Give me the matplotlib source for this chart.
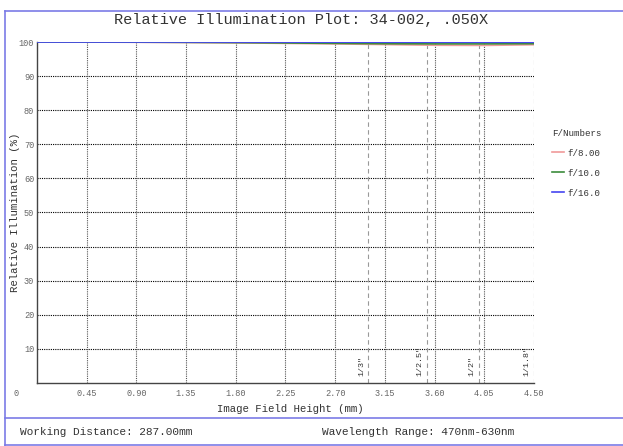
import matplotlib.pyplot as plt
from matplotlib.lines import Line2D

# field height (mm) and relative illumination (%) per f-number
field_mm = [0, 0.45, 0.90, 1.35, 1.80, 2.25, 2.70, 3.15, 3.60, 4.05, 4.50]
illum_f8 = [100, 99.98, 99.92, 99.85, 99.75, 99.6, 99.45, 99.25, 99.05, 99.0, 99.2]
illum_f10 = [100, 100, 99.96, 99.9, 99.82, 99.72, 99.6, 99.5, 99.45, 99.45, 99.5]
illum_f16 = [100, 100, 100, 100, 99.98, 99.97, 99.96, 99.95, 99.94, 99.93, 99.93]

series_labels = ["f/8.00", "f/10.0", "f/16.0"]
series_colors = ["#f09a9a", "#3c8c3c", "#4646f0"]

xticks = [0.45, 0.90, 1.35, 1.80, 2.25, 2.70, 3.15, 3.60, 4.05, 4.50]
yticks = [10, 20, 30, 40, 50, 60, 70, 80, 90, 100]

sensor_names = ['1/3"', '1/2.5"', '1/2"', '1/1.8"']
sensor_half_diag = [3.0, 3.53, 4.0, 4.5]

mono = "Liberation Mono"
txt = "#333333"
frame = "#7b7be6"

fig = plt.figure(figsize=(6.23, 4.46), dpi=100)
ax = fig.add_axes([0.0594, 0.1413, 0.7977, 0.7645])

for y in yticks[:-1]:
    ax.axhline(y, color="black", lw=0.8, ls=(0, (1, 1)), zorder=1)
for x in xticks[:-1]:
    ax.axvline(x, color="#555555", lw=0.8, ls=(0, (1, 1)), zorder=1)
for x, name in zip(sensor_half_diag, sensor_names):
    ax.axvline(x, color="#999999", lw=0.8, ls=(0, (4, 3)), zorder=1)
    ax.text(x - 0.03, 2, name, rotation=90, ha="right", va="bottom",
            fontsize=6, family=mono, color=txt)

for vals, lab, col in zip([illum_f8, illum_f10, illum_f16], series_labels, series_colors):
    ax.plot(field_mm, vals, color=col, lw=1.2, label=lab, zorder=3)

ax.set_xlim(0, 4.5)
ax.set_ylim(0, 100)
ax.set_xticks(xticks)
ax.set_xticklabels([f"{v:.2f}" for v in xticks])
ax.set_yticks(yticks)
ax.tick_params(length=0, labelsize=6.2, labelcolor="#666666")
ax.tick_params(axis="x", pad=4)
ax.tick_params(axis="y", pad=2)
for lbl in ax.get_xticklabels() + ax.get_yticklabels():
    lbl.set_family(mono)
for s in ["top", "right"]:
    ax.spines[s].set_visible(False)
for s in ["left", "bottom"]:
    ax.spines[s].set_color("#444444")
    ax.spines[s].set_linewidth(1)

fig.text(290 / 623, 1 - 409 / 446, "Image Field Height (mm)", family=mono,
         fontsize=7.7, color=txt, ha="center", va="center")
fig.text(15 / 623, 1 - 212 / 446, "Relative Illumination (%)", family=mono,
         fontsize=7.7, color=txt, ha="center", va="center", rotation=90)
fig.text(14 / 623, 1 - 393 / 446, "0", family=mono, fontsize=6.2, color="#666666",
         ha="left", va="center")

leg = ax.legend(loc="upper left", bbox_to_anchor=(1.02, 0.77), frameon=False,
                title="F/Numbers", prop={"family": mono, "size": 6.6},
                handlelength=1.3, handletextpad=0.4, labelspacing=1.2)
leg.get_title().set_family(mono)
leg.get_title().set_fontsize(6.6)
leg.get_title().set_color(txt)
leg._legend_box.align = "left"
for t in leg.get_texts():
    t.set_color(txt)

fig.text(0.483, 1 - 20 / 446, "Relative Illumination Plot: 34-002, .050X",
         family=mono, fontsize=11, color=txt, ha="center", va="center")
fig.text(20 / 623, 1 - 432 / 446, "Working Distance: 287.00mm",
         family=mono, fontsize=8, color=txt, ha="left", va="center")
fig.text(514 / 623, 1 - 432 / 446, "Wavelength Range: 470nm-630nm",
         family=mono, fontsize=8, color=txt, ha="right", va="center")

# outer frame lines
fig.add_artist(Line2D([5 / 623, 1], [1 - 11 / 446] * 2, color=frame, lw=1.2))
fig.add_artist(Line2D([5 / 623] * 2, [0, 1 - 11 / 446], color=frame, lw=1.2))
fig.add_artist(Line2D([5 / 623, 1], [1 - 418 / 446] * 2, color=frame, lw=1.2))
fig.add_artist(Line2D([5 / 623, 1], [1 - 445 / 446] * 2, color=frame, lw=1.2))

fig.savefig("out.png", dpi=100)
